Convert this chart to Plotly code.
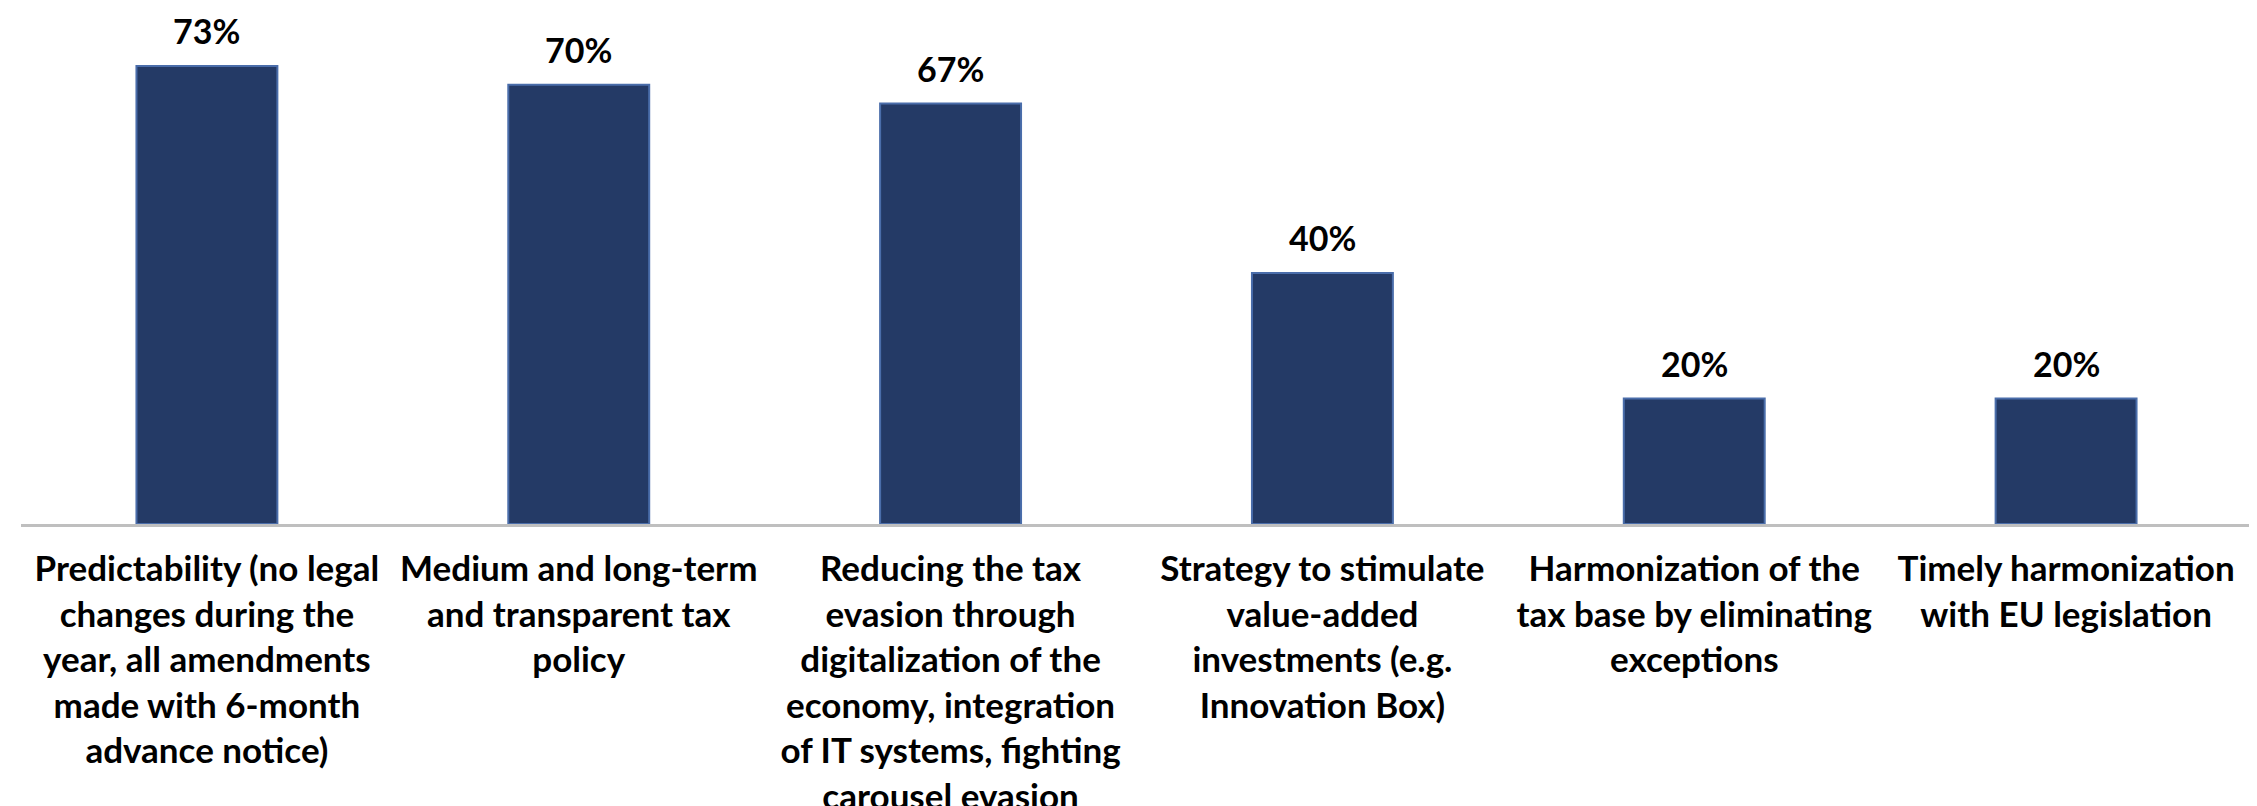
import plotly.graph_objects as go

categories = [
    "Predictability (no legal<br>changes during the<br>year, all amendments<br>made with 6-month<br>advance notice)",
    "Medium and long-term<br>and transparent tax<br>policy",
    "Reducing the tax<br>evasion through<br>digitalization of the<br>economy, integration<br>of IT systems, fighting<br>carousel evasion",
    "Strategy to stimulate<br>value-added<br>investments (e.g.<br>Innovation Box)",
    "Harmonization of the<br>tax base by eliminating<br>exceptions",
    "Timely harmonization<br>with EU legislation",
]
values = [73, 70, 67, 40, 20, 20]
value_labels = [f"{v}%" for v in values]

FONT = "Lato"

fig = go.Figure()
fig.add_trace(go.Bar(
    x=categories,
    y=values,
    marker=dict(color="#243A66", line=dict(color="#4A6DAA", width=2)),
    hoverinfo="skip",
))

for c, v, t in zip(categories, values, value_labels):
    fig.add_annotation(
        x=c, y=v, text=f"<b>{t}</b>", showarrow=False,
        yanchor="bottom", yshift=13,
        font=dict(family=FONT, size=34, color="#000000"),
    )

fig.update_layout(
    width=2257, height=806,
    margin=dict(l=12.5, r=12.5, t=14, b=290, pad=0),
    paper_bgcolor="white", plot_bgcolor="white",
    bargap=0.621,
    showlegend=False,
    font=dict(family=FONT, size=35, color="#000000"),
)
fig.update_xaxes(
    showline=True, linecolor="#BFBFBF", linewidth=3,
    showgrid=False, ticks="", ticklabelstandoff=12, automargin=False,
    tickfont=dict(family=FONT, size=35, color="#000000", weight="bold"),
)
fig.update_yaxes(
    range=[0, 80], visible=False, showgrid=False, zeroline=False,
)

fig.write_html("out.html")
